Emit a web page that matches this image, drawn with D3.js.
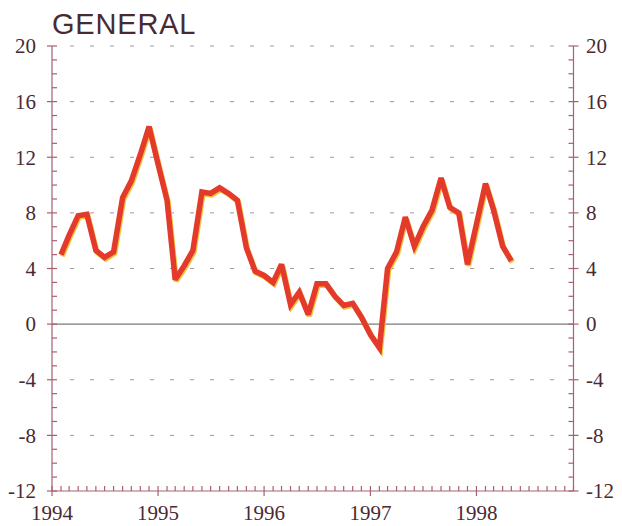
<!DOCTYPE html>
<html>
<head>
<meta charset="utf-8">
<script src="https://cdn.jsdelivr.net/npm/d3@7"></script>
<style>
  body { margin: 0; background: #fff; }
  svg { display: block; }
</style>
</head>
<body>
<div id="chart"></div>
<script>
const WIDTH = 622, HEIGHT = 526
const MARGIN = {left: 52, right: 48.5, top: 46, bottom: 35}

// monthly series, first point is Feb 1994
const firstMonth = new Date(1994, 1, 1)
const values = [
  5.0, 6.4, 7.8, 7.9, 5.3, 4.8, 5.2, 9.1, 10.3, 12.2, 14.2,
  11.5, 8.9, 3.2, 4.2, 5.3, 9.5, 9.4, 9.8, 9.4, 8.9, 5.5,
  3.8, 3.5, 3.0, 4.3, 1.4, 2.3, 0.7, 2.9, 2.9, 2.0, 1.35,
  1.5, 0.5, -0.75, -1.7, 4.0, 5.2, 7.7, 5.6, 7.0, 8.2, 10.5,
  8.4, 8.0, 4.3, 7.2, 10.1, 8.2, 5.6, 4.55
]
const yearTicks = [1994, 1995, 1996, 1997, 1998]
const yTicks = [-12, -8, -4, 0, 4, 8, 12, 16, 20]
const gridValues = [-8, -4, 4, 8, 12, 16, 20]

const months = values.map((v, i) => d3.timeMonth.offset(firstMonth, i))
const data = months.map((m, i) => ({date: m, value: values[i]}))

const AXIS_COLOR = "#a8606e"
const TEXT_COLOR = "#4a2a32"
const SERIF = "Liberation Serif"

let svg = d3.select("#chart").append("svg")
  .attr("width", WIDTH).attr("height", HEIGHT)

let x = d3.scaleTime()
  .domain([new Date(1994, 0, 1), new Date(1998, 11, 1)])
  .range([MARGIN.left, WIDTH - MARGIN.right])
let y = d3.scaleLinear()
  .domain([-12, 20])
  .range([HEIGHT - MARGIN.bottom, MARGIN.top])

let x0 = x.range()[0], x1 = x.range()[1]
let y0 = y(-12), y1 = y(20)

// dashed grid
svg.append("g").selectAll("line").data(gridValues).join("line")
  .attr("x1", x0 + 18).attr("x2", x1 - 4)
  .attr("y1", d => y(d)).attr("y2", d => y(d))
  .attr("stroke", "#9a9a9a").attr("stroke-width", 1)
  .attr("stroke-dasharray", "4,16")

// zero line
svg.append("line")
  .attr("x1", x0).attr("x2", x1)
  .attr("y1", y(0)).attr("y2", y(0))
  .attr("stroke", "#7a7a7a").attr("stroke-width", 1.2)

// axes frame: left, right, bottom
let axes = svg.append("g").attr("stroke", AXIS_COLOR).attr("stroke-width", 1.2)
axes.append("line").attr("x1", x0).attr("x2", x0).attr("y1", y1).attr("y2", y0)
axes.append("line").attr("x1", x1).attr("x2", x1).attr("y1", y1).attr("y2", y0)
axes.append("line").attr("x1", x0).attr("x2", x1).attr("y1", y0).attr("y2", y0)

// y minor + major ticks
let yMinor = d3.range(-12, 21)
axes.append("g").selectAll("line").data(yMinor).join("line")
  .attr("x1", d => d % 4 == 0 ? x0 - 5 : x0)
  .attr("x2", x0 + 5)
  .attr("y1", d => y(d)).attr("y2", d => y(d))
axes.append("g").selectAll("line").data(yMinor).join("line")
  .attr("x1", x1 - 5)
  .attr("x2", d => d % 4 == 0 ? x1 + 5 : x1)
  .attr("y1", d => y(d)).attr("y2", d => y(d))

// x month ticks
let xMonths = d3.timeMonth.range(x.domain()[0], d3.timeMonth.offset(x.domain()[1], 1))
axes.append("g").selectAll("line").data(xMonths).join("line")
  .attr("x1", d => x(d)).attr("x2", d => x(d))
  .attr("y1", y0 - 5)
  .attr("y2", d => d.getMonth() == 0 ? y0 + 5 : y0)

// labels
let labelStyle = sel => sel
  .attr("fill", TEXT_COLOR)
  .attr("font-family", SERIF)
  .attr("font-size", 21)

svg.append("g").selectAll("text").data(yTicks).join("text")
  .text(d => d)
  .attr("x", 36).attr("y", d => y(d)).attr("dy", "0.35em")
  .attr("text-anchor", "end")
  .call(labelStyle)
svg.append("g").selectAll("text").data(yTicks).join("text")
  .text(d => d)
  .attr("x", 586).attr("y", d => y(d)).attr("dy", "0.35em")
  .attr("text-anchor", "start")
  .call(labelStyle)
svg.append("g").selectAll("text").data(yearTicks).join("text")
  .text(d => d)
  .attr("x", d => x(new Date(d, 0, 1))).attr("y", 520)
  .attr("text-anchor", "middle")
  .call(labelStyle)

// title
svg.append("text")
  .text("GENERAL")
  .attr("x", 52).attr("y", 34)
  .attr("fill", TEXT_COLOR)
  .attr("font-family", "Liberation Sans")
  .attr("font-size", 29)
  .attr("letter-spacing", 0.8)

// series line with a yellow print fringe
let line = d3.line().x(d => x(d.date)).y(d => y(d.value))
svg.append("path").datum(data)
  .attr("d", line)
  .attr("transform", "translate(1,1.5)")
  .attr("fill", "none").attr("stroke", "#f6c23a").attr("stroke-width", 5.5)
  .attr("stroke-linejoin", "miter").attr("stroke-miterlimit", 3)
svg.append("path").datum(data)
  .attr("d", line)
  .attr("fill", "none").attr("stroke", "#e33a2c").attr("stroke-width", 5.5)
  .attr("stroke-linejoin", "miter").attr("stroke-miterlimit", 3)
</script>
</body>
</html>
